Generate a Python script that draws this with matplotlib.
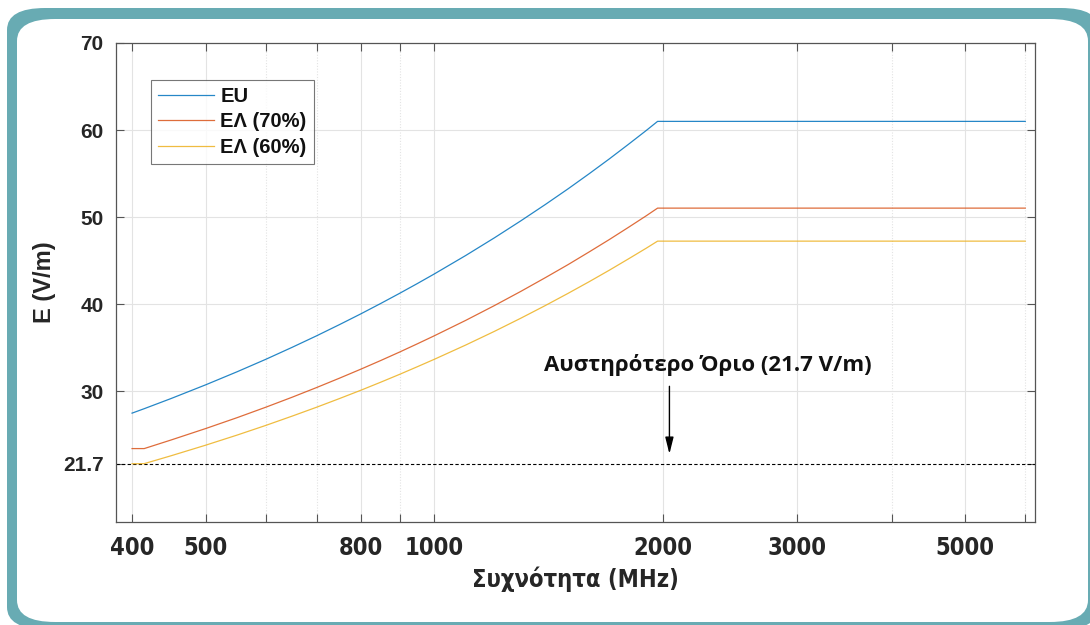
import matplotlib
matplotlib.use("Agg")
import matplotlib.pyplot as plt
from matplotlib.patches import FancyBboxPatch
from matplotlib.ticker import FixedLocator, NullFormatter

# Datos (frecuencia en MHz, campo en V/m)
freq = [400, 415, 450, 500, 550, 600, 650, 700, 750, 800, 850, 900, 950,
        1000, 1100, 1200, 1300, 1400, 1500, 1600, 1700, 1800, 1900, 1968,
        2000, 3000, 4000, 5000, 6000]
e_eu = [27.50, 28.01, 29.17, 30.75, 32.25, 33.68, 35.06, 36.38, 37.66, 38.89,
        40.09, 41.25, 42.38, 43.48, 45.60, 47.63, 49.58, 51.45, 53.25, 55.00,
        56.69, 58.34, 59.93, 61.00, 61.00, 61.00, 61.00, 61.00, 61.00]
e_el70 = [23.43, 23.43, 24.41, 25.73, 26.98, 28.18, 29.33, 30.44, 31.51, 32.54,
          33.54, 34.51, 35.46, 36.38, 38.15, 39.85, 41.48, 43.05, 44.55, 46.02,
          47.43, 48.81, 50.14, 51.04, 51.04, 51.04, 51.04, 51.04, 51.04]
e_el60 = [21.69, 21.70, 22.60, 23.82, 24.98, 26.09, 27.16, 28.18, 29.17, 30.12,
          31.05, 31.95, 32.83, 33.68, 35.32, 36.89, 38.40, 39.85, 41.25, 42.60,
          43.91, 45.19, 46.42, 47.25, 47.25, 47.25, 47.25, 47.25, 47.25]
series_labels = ["EU", "ΕΛ (70%)", "ΕΛ (60%)"]
series_colors = ["#0072BD", "#D95319", "#EDB120"]

limite = 21.7
x_major = [400, 500, 800, 1000, 2000, 3000, 5000]
x_minor = [600, 700, 900, 4000, 6000]
y_ticks = [21.7, 30, 40, 50, 60, 70]
y_ticklabels = ["21.7", "30", "40", "50", "60", "70"]

fuente = ["Liberation Sans", "DejaVu Sans"]

fig = plt.figure(figsize=(10.9, 6.25), dpi=100)

# Marco redondeado de fondo (borde verde azulado y tarjeta blanca)
W, H = 1090.0, 625.0
marco = FancyBboxPatch((7 / W, -4 / H), 1092 / W, 621 / H,
                       boxstyle="round,pad=0,rounding_size=0.035",
                       transform=fig.transFigure, facecolor="#68abb3",
                       edgecolor="none", zorder=0)
tarjeta = FancyBboxPatch((17 / W, 3 / H), 1071 / W, 603 / H,
                         boxstyle="round,pad=0,rounding_size=0.035",
                         transform=fig.transFigure, facecolor="white",
                         edgecolor="none", zorder=1)
fig.patches.extend([marco, tarjeta])

ax = fig.add_axes([116 / W, 1 - 522 / H, (1035 - 116) / W, (522 - 43) / H])
ax.set_zorder(2)
ax.set_facecolor("white")

ax.set_xscale("log")
ax.set_xlim(381, 6180)
ax.set_ylim(15, 70)

# Cuadrícula
for f in x_major:
    ax.axvline(f, color="#e3e3e3", lw=0.8, zorder=0)
for f in x_minor:
    ax.axvline(f, color="#e3e3e3", lw=0.8, ls=(0, (1, 1.5)), zorder=0)
for y in [30, 40, 50, 60]:
    ax.axhline(y, color="#e3e3e3", lw=0.8, zorder=0)

# Curvas
for vals, lbl, col in zip([e_eu, e_el70, e_el60], series_labels, series_colors):
    ax.plot(freq, vals, color=col, lw=0.9, alpha=0.85, label=lbl, zorder=3)

ax.axhline(limite, color="black", lw=0.8, ls=(0, (3, 2)), zorder=2)

# Flecha y texto del límite
ax.annotate("", xy=(2040, 22.5), xytext=(2040, 30.9),
            arrowprops=dict(arrowstyle="-|>,head_width=0.25,head_length=1.0",
                            color="black", lw=1.0), zorder=4)
ax.text(2290, 33.0, "Αυστηρότερο Όριο (21.7 V/m)", ha="center", va="center",
        fontsize=16, fontweight="bold", family=["Open Sans", "DejaVu Sans"],
        color="#111111", zorder=4)

# Ejes y marcas
ax.xaxis.set_major_locator(FixedLocator(x_major))
ax.xaxis.set_minor_locator(FixedLocator(x_minor))
ax.xaxis.set_minor_formatter(NullFormatter())
ax.set_xticklabels([str(v) for v in x_major])
ax.set_yticks(y_ticks)
ax.set_yticklabels(y_ticklabels)
ax.tick_params(which="both", direction="in", top=True, right=True,
               length=6, width=0.8, color="#555555")
ax.tick_params(axis="x", pad=10)
ax.tick_params(axis="y", pad=9)
for lab in ax.get_xticklabels():
    lab.set_fontsize(17)
    lab.set_fontweight("bold")
    lab.set_family("DejaVu Sans")
    lab.set_fontstretch("condensed")
    lab.set_color("#262626")
for lab in ax.get_yticklabels():
    lab.set_fontsize(15)
    lab.set_fontweight("bold")
    lab.set_family(fuente)
    lab.set_color("#262626")
for s in ax.spines.values():
    s.set_color("#555555")
    s.set_linewidth(0.9)

ax.set_xlabel("Συχνότητα (MHz)", fontsize=17, fontweight="bold",
              family="DejaVu Sans", fontstretch="condensed",
              color="#262626", labelpad=5)
ax.set_ylabel("E (V/m)", fontsize=17, fontweight="bold", family=fuente,
              color="#262626", labelpad=5)

leg = ax.legend(loc="upper left", bbox_to_anchor=(0.038, 0.923), frameon=True,
                fancybox=False, edgecolor="#555555", handlelength=2.8,
                handletextpad=0.3, labelspacing=0.32, borderpad=0.35,
                borderaxespad=0,
                prop={"family": fuente, "weight": "bold", "size": 14.5})
leg.get_frame().set_linewidth(0.8)
for t in leg.get_texts():
    t.set_color("#111111")

fig.savefig("out.png", dpi=100)
